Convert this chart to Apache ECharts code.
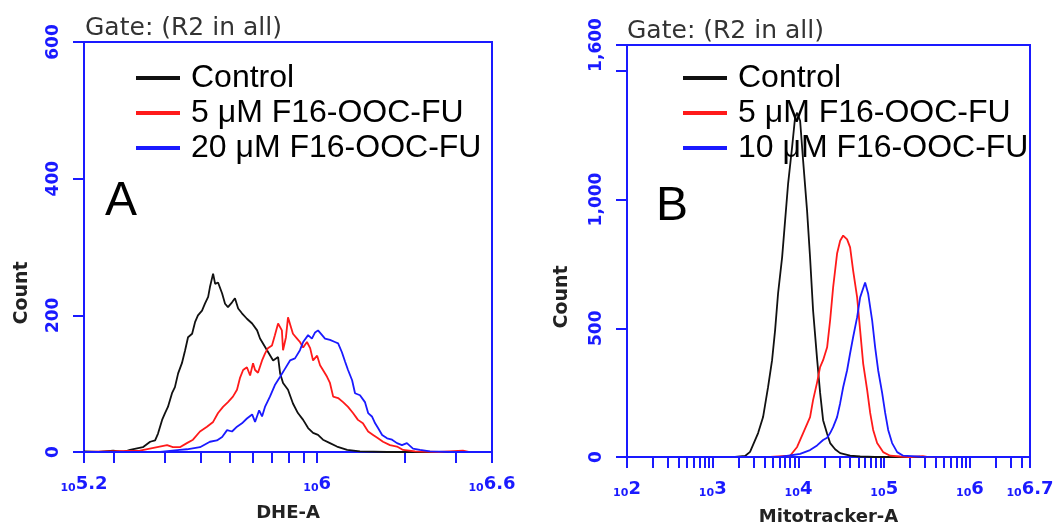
<!DOCTYPE html>
<html><head><meta charset="utf-8">
<script src="https://cdn.jsdelivr.net/npm/echarts@6/dist/echarts.min.js"></script>
<style>html,body{margin:0;padding:0;background:#fff}#c{width:1062px;height:524px}</style>
</head><body><div id="c"></div>
<script>
// ---- Panel A (DHE-A), x = log10(intensity), y = count ----
const dheNames = ['Control', '5 μM F16-OOC-FU', '20 μM F16-OOC-FU'];
const dheControl = [[5.2,1],[5.25,0],[5.3,2],[5.334,0],[5.358,3],[5.402,7],[5.427,15],[5.444,17],[5.454,27],[5.468,47],[5.478,57],[5.488,66],[5.502,86],[5.512,95],[5.523,115],[5.536,130],[5.547,149],[5.557,168],[5.571,173],[5.581,190],[5.591,200],[5.605,207],[5.615,217],[5.626,227],[5.632,241],[5.643,261],[5.650,246],[5.660,248],[5.674,232],[5.684,217],[5.694,212],[5.708,219],[5.718,225],[5.729,210],[5.742,203],[5.759,195],[5.777,188],[5.794,178],[5.804,166],[5.828,149],[5.849,134],[5.866,139],[5.873,115],[5.883,101],[5.900,91],[5.917,71],[5.934,57],[5.952,47],[5.969,35],[5.986,28],[6.003,25],[6.020,18],[6.044,13],[6.068,8],[6.103,3],[6.147,1],[6.24,0],[6.6,0]];
const dhe5uM = [[5.2,0],[5.392,2],[5.485,10],[5.505,7],[5.529,7],[5.553,13],[5.574,18],[5.598,30],[5.622,37],[5.643,44],[5.660,57],[5.677,66],[5.694,73],[5.711,81],[5.725,91],[5.735,108],[5.746,120],[5.759,124],[5.770,112],[5.780,130],[5.787,120],[5.797,116],[5.811,134],[5.821,144],[5.831,152],[5.845,156],[5.855,171],[5.866,188],[5.879,178],[5.883,149],[5.893,168],[5.900,197],[5.910,183],[5.917,173],[5.931,166],[5.941,161],[5.952,153],[5.965,161],[5.976,152],[5.986,134],[6.000,141],[6.010,127],[6.020,120],[6.034,110],[6.044,101],[6.055,81],[6.072,79],[6.089,73],[6.106,66],[6.123,57],[6.140,47],[6.157,42],[6.175,30],[6.192,25],[6.209,20],[6.226,15],[6.250,10],[6.274,8],[6.295,3],[6.336,1],[6.42,0],[6.5,2],[6.52,0],[6.6,0]];
const dhe20uM = [[5.2,0],[5.461,0],[5.529,3],[5.553,4],[5.598,7],[5.632,15],[5.656,17],[5.674,22],[5.691,32],[5.708,30],[5.725,37],[5.742,42],[5.759,49],[5.777,55],[5.787,44],[5.801,61],[5.811,52],[5.821,66],[5.838,81],[5.855,98],[5.873,110],[5.890,122],[5.907,134],[5.924,137],[5.941,149],[5.952,161],[5.969,171],[5.982,166],[5.993,175],[6.003,178],[6.017,171],[6.027,166],[6.044,164],[6.061,161],[6.072,159],[6.085,146],[6.096,132],[6.106,120],[6.120,105],[6.130,86],[6.147,83],[6.164,73],[6.175,57],[6.188,52],[6.199,42],[6.209,35],[6.223,25],[6.240,20],[6.257,18],[6.274,13],[6.291,10],[6.308,13],[6.329,5],[6.353,3],[6.387,1],[6.456,0],[6.6,0]];
const dheXTickValues = [1.585e5,2e5,3e5,4e5,5e5,6e5,7e5,8e5,9e5,1e6,2e6,3e6,3.98e6];
const dheXLabels = [5.2, 6, 6.6];
const dheYTicks = [0, 200, 400, 600];

// ---- Panel B (Mitotracker-A) ----
const mitoNames = ['Control', '5 μM F16-OOC-FU', '10 μM F16-OOC-FU'];
const mitoControl = [[2,0],[3.26,0],[3.377,4],[3.435,20],[3.529,93],[3.587,155],[3.645,271],[3.692,376],[3.727,492],[3.762,636],[3.809,775],[3.844,919],[3.879,1062],[3.925,1202],[3.960,1318],[3.984,1337],[4.019,1306],[4.054,1151],[4.100,957],[4.135,775],[4.170,570],[4.217,380],[4.252,250],[4.287,143],[4.334,90],[4.369,54],[4.427,30],[4.486,15],[4.602,5],[4.72,2],[4.89,0],[6.7,0]];
const mito5uM = [[2,0],[3.669,0],[3.902,5],[3.984,39],[4.054,93],[4.135,155],[4.170,221],[4.217,290],[4.252,349],[4.287,376],[4.334,426],[4.369,531],[4.404,659],[4.450,790],[4.486,840],[4.521,860],[4.567,845],[4.602,814],[4.637,725],[4.684,620],[4.719,492],[4.754,364],[4.801,260],[4.836,171],[4.871,105],[4.917,54],[4.987,19],[5.069,5],[5.186,2],[5.3,0],[5.45,3],[5.5,0],[6.7,0]];
const mito10uM = [[2,0],[3.785,0],[4.019,12],[4.135,27],[4.217,45],[4.287,66],[4.334,75],[4.369,93],[4.404,116],[4.450,155],[4.486,209],[4.521,271],[4.567,337],[4.602,403],[4.637,465],[4.684,543],[4.719,620],[4.777,678],[4.812,635],[4.859,531],[4.894,426],[4.929,337],[4.976,248],[5.011,171],[5.046,105],[5.092,54],[5.151,19],[5.221,5],[5.42,1],[5.89,0],[6.7,0]];
const mitoDecades = [100, 1000, 10000, 100000, 1000000];
const mitoMantissas = [1,2,3,4,5,6,7,8,9];
const mitoXLabels = [2, 3, 4, 5, 6, 6.7];
const mitoYTicks = [0, 500, 1000, 1500, 1600];
const mitoYLabels = [0, 500, 1000, 1600];

const BLUE = '#1a1aff', RED = '#ff1a1a', BLACK = '#111111';
const colors = [BLACK, RED, BLUE];

const mitoXTickValues = [];
mitoDecades.forEach(d => mitoMantissas.forEach(m => { if (d*m <= 5.02e6) mitoXTickValues.push(Math.log10(d*m)); }));

const fmtExp = v => String(Math.round(v*10)/10);
const xLabelCommon = {
  margin: 22,
  formatter: v => '{s|10}{e|' + fmtExp(v) + '}',
  rich: {
    s: {fontSize: 11, fontWeight: 'bold', color: BLUE, fontFamily: 'DejaVu Sans', verticalAlign: 'bottom', lineHeight: 20},
    e: {fontSize: 18, fontWeight: 'bold', color: BLUE, fontFamily: 'DejaVu Sans', lineHeight: 20}
  }
};
const axisLine = {show: true, lineStyle: {color: BLUE, width: 2}};
const tickStyle = {show: true, inside: false, length: 11, lineStyle: {color: BLUE, width: 2}};
const nameStyle = {fontSize: 18, fontWeight: 'bold', fontFamily: 'DejaVu Sans', color: '#222'};
const yLabelStyle = {rotate: 90, margin: 22, color: BLUE, fontSize: 17, fontWeight: 'bold', fontFamily: 'DejaVu Sans',
  formatter: v => Number(v).toLocaleString('en-US')};

function mkSeries(data, idx, name, ci) {
  return {type: 'line', name, data, xAxisIndex: idx, yAxisIndex: idx, symbol: 'none', showSymbol: false,
    lineStyle: {color: colors[ci], width: 1.8}, itemStyle: {color: colors[ci]}, animation: false, z: 3};
}

const legendCommon = {orient: 'vertical', icon: 'rect', itemWidth: 44, itemHeight: 4, itemGap: 3, selectedMode: false,
  textStyle: {fontSize: 32, fontFamily: 'Liberation Sans, Arial', color: '#000', padding: [0,0,0,6]}};

const option = {
  backgroundColor: '#fff',
  animation: false,
  grid: [
    {left: 84, top: 42, width: 408, height: 410, show: true, borderColor: BLUE, borderWidth: 2, backgroundColor: 'transparent', outerBoundsMode: 'none', containLabel: false},
    {left: 627, top: 45, width: 403, height: 412, show: true, borderColor: BLUE, borderWidth: 2, backgroundColor: 'transparent', outerBoundsMode: 'none', containLabel: false}
  ],
  xAxis: [
    {type: 'value', gridIndex: 0, min: 5.2, max: 6.6, splitLine: {show: false}, axisLine,
      axisTick: Object.assign({customValues: dheXTickValues.map(v => Math.log10(v))}, tickStyle),
      axisLabel: Object.assign({customValues: dheXLabels}, xLabelCommon),
      name: 'DHE-A', nameLocation: 'middle', nameGap: 52, nameTextStyle: nameStyle},
    {type: 'value', gridIndex: 1, min: 2, max: 6.7, splitLine: {show: false}, axisLine,
      axisTick: Object.assign({customValues: mitoXTickValues}, tickStyle),
      axisLabel: Object.assign({customValues: mitoXLabels}, xLabelCommon),
      name: 'Mitotracker-A', nameLocation: 'middle', nameGap: 51, nameTextStyle: nameStyle}
  ],
  yAxis: [
    {type: 'value', gridIndex: 0, min: 0, max: 600, splitLine: {show: false}, axisLine,
      axisTick: Object.assign({customValues: dheYTicks}, tickStyle),
      axisLabel: Object.assign({customValues: dheYTicks}, yLabelStyle)},
    {type: 'value', gridIndex: 1, min: 0, max: 1600, splitLine: {show: false}, axisLine,
      axisTick: Object.assign({customValues: mitoYTicks}, tickStyle),
      axisLabel: Object.assign({customValues: mitoYLabels}, yLabelStyle)}
  ],
  legend: [
    Object.assign({left: 131, top: 57, data: dheNames}, legendCommon),
    Object.assign({left: 678, top: 57, data: mitoNames}, legendCommon)
  ],
  series: [
    mkSeries(dheControl, 0, dheNames[0], 0),
    mkSeries(dhe5uM, 0, dheNames[1], 1),
    mkSeries(dhe20uM, 0, dheNames[2], 2),
    mkSeries(mitoControl, 1, mitoNames[0], 0),
    mkSeries(mito5uM, 1, mitoNames[1], 1),
    mkSeries(mito10uM, 1, mitoNames[2], 2)
  ],
  graphic: [
    {type: 'text', x: 85, y: 28, style: {text: 'Gate: (R2 in all)', font: '25px DejaVu Sans', fill: '#333', verticalAlign: 'middle'}},
    {type: 'text', x: 627, y: 31, style: {text: 'Gate: (R2 in all)', font: '25px DejaVu Sans', fill: '#333', verticalAlign: 'middle'}},
    {type: 'text', x: 121, y: 202, style: {text: 'A', font: '48px Liberation Sans', fill: '#000', align: 'center', verticalAlign: 'middle'}},
    {type: 'text', x: 672, y: 207, style: {text: 'B', font: '48px Liberation Sans', fill: '#000', align: 'center', verticalAlign: 'middle'}},
    {type: 'text', x: 22, y: 293, rotation: Math.PI/2, style: {text: 'Count', font: 'bold 19px DejaVu Sans', fill: '#222', align: 'center', verticalAlign: 'middle'}},
    {type: 'text', x: 562, y: 297, rotation: Math.PI/2, style: {text: 'Count', font: 'bold 19px DejaVu Sans', fill: '#222', align: 'center', verticalAlign: 'middle'}}
  ]
};
const chart = echarts.init(document.getElementById('c'), null, {renderer: 'canvas'});
chart.setOption(option);
</script>
</body></html>
